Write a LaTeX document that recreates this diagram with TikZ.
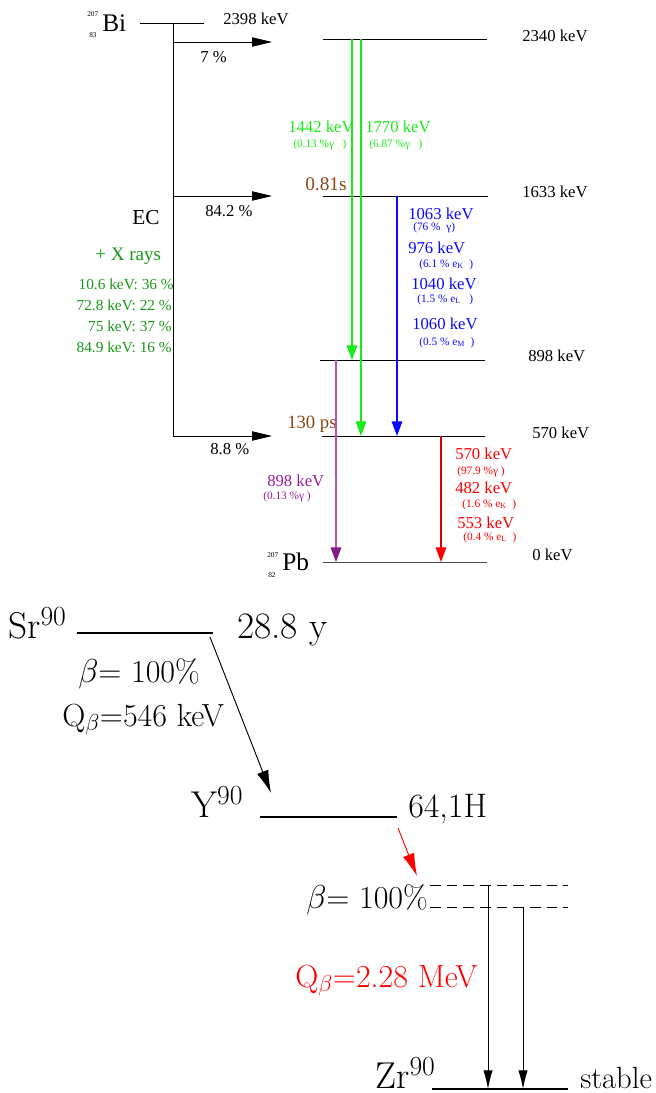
\documentclass[tikz,border=0pt]{standalone}
\usepackage{fontspec}
\newfontfamily\tms{Liberation Serif}
\usetikzlibrary{arrows.meta}
\definecolor{grn}{RGB}{25,235,25}
\definecolor{xgrn}{RGB}{25,150,25}
\definecolor{blu}{RGB}{10,10,255}
\definecolor{rd}{RGB}{255,0,0}
\definecolor{prp}{RGB}{150,30,150}
\definecolor{brn}{RGB}{140,70,20}
\begin{document}
\begin{tikzpicture}[x=0.75pt,y=-0.75pt,
  lvl/.style={line width=0.6pt},
  hlab/.style={font=\tms\fontsize{12.5}{14}\selectfont, anchor=base west, inner sep=0},
  hlabr/.style={font=\tms\fontsize{11.5}{14}\selectfont, anchor=base east, inner sep=0},
  small/.style={font=\tms\fontsize{8.5}{9}\selectfont, anchor=base west, inner sep=0},
  tiny/.style={font=\tms\fontsize{5.5}{6}\selectfont, anchor=base west, inner sep=0},
  elem/.style={font=\tms\fontsize{19}{20}\selectfont, anchor=base west, inner sep=0},
  harr/.style={-{Triangle[length=15pt,width=7pt]}, line width=0.6pt},
  varr/.style={-{Triangle[length=11pt,width=8pt]}, line width=0.8pt},
  big/.style={font=\fontsize{28}{32}\selectfont, anchor=base west, inner sep=0},
  mid/.style={font=\fontsize{24}{28}\selectfont, anchor=base west, inner sep=0},
  thk/.style={line width=1.8pt},
  barr/.style={-{Latex[length=17pt,width=9pt]}, line width=0.7pt},
  zarr/.style={-{Latex[length=14pt,width=7pt]}, line width=0.7pt},
  dsh/.style={line width=0.7pt, dash pattern=on 8pt off 4.5pt}
]
\useasboundingbox (0,0) rectangle (656,1093);

% ---------- Bi-207 scheme ----------
\node[elem] (bi) at (102,31) {Bi};
\node[tiny] (bia) at (87,16) {207};
\node[tiny] (biz) at (89,37) {83};
\coordinate (biL) at (140,23); \coordinate (biR) at (204,23);
\draw[lvl] (biL) -- (biR);
\node[hlab] (e2398) at (223,24) {2398 keV};

\coordinate (ecT) at (173,23); \coordinate (ecB) at (173,436);
\draw[lvl] (ecT) -- (ecB);
\coordinate (a7s) at (173,42); \coordinate (a7e) at (272,42);
\coordinate (a84s) at (173,196); \coordinate (a84e) at (272,196);
\coordinate (a88e) at (272,436);
\draw[harr] (a7s) -- (a7e);
\draw[harr] (a84s) -- (a84e);
\draw[harr] (ecB) -- (a88e);
\node[hlab] (p7) at (200,62) {7 \%};
\node[hlab] (p84) at (205,216) {84.2 \%};
\node[hlab] (p88) at (210,454) {8.8 \%};

\node[font=\tms\fontsize{16}{18}\selectfont, anchor=base west, inner sep=0] (ec) at (132,224) {EC};
\node[font=\tms\fontsize{14.3}{16}\selectfont, anchor=base west, inner sep=0, text=xgrn] (xr) at (95,260) {+ X rays};
\node[hlabr, text=xgrn] (x1) at (174,289) {10.6 keV: 36 \%};
\node[hlabr, text=xgrn] (x2) at (172,310) {72.8 keV: 22 \%};
\node[hlabr, text=xgrn] (x3) at (172,331) {75 keV: 37 \%};
\node[hlabr, text=xgrn] (x4) at (172,352) {84.9 keV: 16 \%};

% levels
\coordinate (l2340a) at (323,39); \coordinate (l2340b) at (487,39);
\coordinate (l1633a) at (323,196); \coordinate (l1633b) at (488,196);
\coordinate (l898a) at (320,360); \coordinate (l898b) at (485,360);
\coordinate (l570a) at (322,436); \coordinate (l570b) at (485,436);
\coordinate (l0a) at (323,562); \coordinate (l0b) at (487,562);
\draw[lvl] (l2340a) -- (l2340b);
\draw[lvl] (l1633a) -- (l1633b);
\draw[lvl] (l898a) -- (l898b);
\draw[lvl] (l570a) -- (l570b);
\draw[lvl, black!70] (l0a) -- (l0b);
\node[hlab] (t2340) at (522,41) {2340 keV};
\node[hlab] (t1633) at (522,197) {1633 keV};
\node[hlab] (t898) at (528,361) {898 keV};
\node[hlab] (t570) at (532,438) {570 keV};
\node[hlab] (t0) at (532,560) {0 keV};

\node[font=\tms\fontsize{14.5}{16}\selectfont, anchor=base west, inner sep=0, text=brn] (hl1) at (305,190) {0.81s};
\node[font=\tms\fontsize{14}{16}\selectfont, anchor=base west, inner sep=0, text=brn] (hl2) at (287,428) {130 ps};

\node[elem] (pb) at (282,570) {Pb};
\node[tiny] (pba) at (267,557) {207};
\node[tiny] (pbz) at (268,577) {82};

% gamma transitions
\coordinate (g1s) at (352,39); \coordinate (g1e) at (352,360);
\coordinate (g2s) at (361,39); \coordinate (g2e) at (361,436);
\coordinate (bs) at (397,196); \coordinate (be) at (397,436);
\coordinate (ps) at (336,360); \coordinate (pe) at (336,562);
\coordinate (rs) at (441,436); \coordinate (re) at (441,562);
\draw[varr, grn] (g1s) -- (g1e);
\draw[varr, grn] (g2s) -- (g2e);
\draw[varr, blu] (bs) -- (be);
\draw[varr, prp!75, -{Triangle[length=11pt,width=8pt,fill=prp!90!black,color=prp!90!black]}] (ps) -- (pe);
\draw[varr, rd!85!black, -{Triangle[length=11pt,width=8pt,fill=rd,color=rd]}] (rs) -- (re);

\node[hlab, text=grn] (g1a) at (288,132) {1442 keV};
\node[small, text=grn] (g1b) at (293,147) {(0.13 \%γ \ \ )};
\node[hlab, text=grn] (g2a) at (365,132) {1770 keV};
\node[small, text=grn] (g2b) at (369,147) {(6.87 \%γ \ \ )};

\node[hlab, text=blu] (b1) at (408,219) {1063 keV};
\node[small, text=blu] (b1s) at (413,230) {(76 \% \ γ)};
\node[hlab, text=blu] (b2) at (408,253) {976 keV};
\node[small, text=blu] (b2s) at (419,267) {(6.1 \% e\textsubscript{K} \ )};
\node[hlab, text=blu] (b3) at (411,289) {1040 keV};
\node[small, text=blu] (b3s) at (417,302) {(1.5 \% e\textsubscript{L} \ \ )};
\node[hlab, text=blu] (b4) at (412,329) {1060 keV};
\node[small, text=blu] (b4s) at (419,345) {(0.5 \% e\textsubscript{M} \ )};

\node[hlab, text=prp] (pl1) at (267,486) {898 keV};
\node[small, text=prp] (pl2) at (263,499) {(0.13 \%γ )};

\node[hlab, text=rd] (r1) at (455,459) {570 keV};
\node[small, text=rd] (r1s) at (457,474) {(97.9 \%γ )};
\node[hlab, text=rd] (r2) at (455,493) {482 keV};
\node[small, text=rd] (r2s) at (462,507) {(1.6 \% e\textsubscript{K} \ )};
\node[hlab, text=rd] (r3) at (457,528) {553 keV};
\node[small, text=rd] (r3s) at (463,540) {(0.4 \% e\textsubscript{L} \ )};

% ---------- Sr-90 scheme ----------
\node[big] (sr) at (8,638) {Sr$^{90}$};
\coordinate (srL) at (77,633); \coordinate (srR) at (213,633);
\draw[thk] (srL) -- (srR);
\node[big] (srT) at (237,638) {28.8 y};
\node[mid] (srb) at (78,682) {$\beta$= 100\%};
\node[mid] (srq) at (62,726) {Q$_\beta$=546 keV};
\coordinate (sra) at (210,637); \coordinate (srb2) at (271,793);
\draw[barr] (sra) -- (srb2);

\node[big] (y) at (191,817) {Y$^{90}$};
\coordinate (yL) at (260,817); \coordinate (yR) at (397,817);
\draw[thk] (yL) -- (yR);
\node[font=\fontsize{25.5}{28}\selectfont, anchor=base west, inner sep=0] (yT) at (408,817) {64,1H};
\coordinate (ya) at (398,828); \coordinate (yb) at (417,876);
\draw[barr, rd] (ya) -- (yb);

\node[mid] (yb1) at (306,908) {$\beta$= 100\%};
\coordinate (d1a) at (430,885); \coordinate (d1b) at (568,885);
\coordinate (d2a) at (430,907); \coordinate (d2b) at (568,907);
\draw[dsh] (d1a) -- (d1b);
\draw[dsh] (d2a) -- (d2b);
\node[mid, text=rd] (yq) at (295,987) {Q$_\beta$=2.28 MeV};

\node[big] (zr) at (375,1088) {Zr$^{90}$};
\coordinate (zL) at (432,1089); \coordinate (zR) at (568,1089);
\draw[thk] (zL) -- (zR);
\node[font=\fontsize{23}{26}\selectfont, anchor=base west, inner sep=0] (zT) at (580,1088) {stable};
\coordinate (z1s) at (488,885); \coordinate (z1e) at (488,1089);
\coordinate (z2s) at (523,907); \coordinate (z2e) at (523,1089);
\draw[zarr] (z1s) -- (z1e);
\draw[zarr] (z2s) -- (z2e);
\end{tikzpicture}
\end{document}
